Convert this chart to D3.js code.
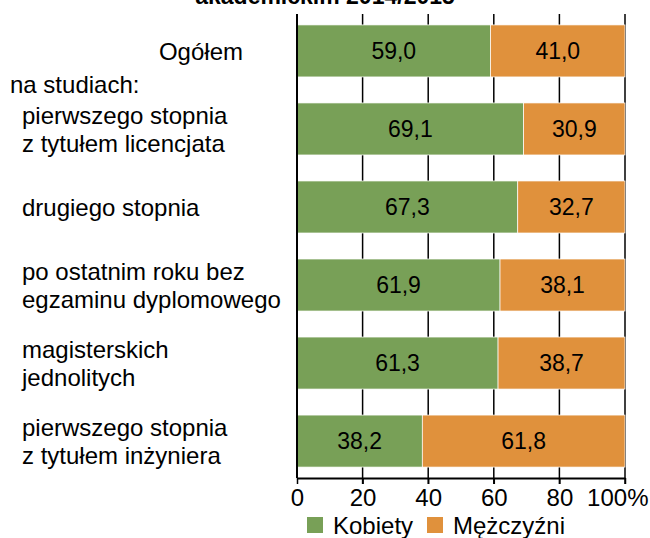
<!DOCTYPE html>
<html>
<head>
<meta charset="utf-8">
<script src="https://cdn.jsdelivr.net/npm/d3@7"></script>
<style>
  body { margin: 0; background: #fff; }
  text { font-family: "Liberation Sans", Arial, sans-serif; fill: #000; }
</style>
</head>
<body>
<script>
// data
const categories = [
  "Ogółem",
  "pierwszego stopnia\nz tytułem licencjata",
  "drugiego stopnia",
  "po ostatnim roku bez\negzaminu dyplomowego",
  "magisterskich\njednolitych",
  "pierwszego stopnia\nz tytułem inżyniera"
]
const kobiety = [59.0, 69.1, 67.3, 61.9, 61.3, 38.2]
const mezczyzni = [41.0, 30.9, 32.7, 38.1, 38.7, 61.8]
const seriesNames = ["Kobiety", "Mężczyźni"]
const colors = ["#78a057", "#e0913c"]
const xTicks = [0, 20, 40, 60, 80, 100]

const W = 650, H = 538
const fs = 23     // values, ticks, legend
const fsLab = 24  // category labels

const svg = d3.select("body").append("svg")
  .attr("width", W)
  .attr("height", H)

// title (cut off at top of the picture, as in the original)
svg.append("text")
  .attr("x", 325).attr("y", 4)
  .attr("text-anchor", "middle")
  .attr("font-weight", "bold")
  .attr("font-size", fs)
  .text("akademickim 2014/2015")

const x = d3.scaleLinear().domain([0, 100]).range([297, 625])
const y = d3.scaleBand().domain(categories).range([14, 478])
  .paddingInner(1 / 3).paddingOuter(0.14)

// gridlines (behind bars)
svg.append("g").selectAll("line")
  .data(xTicks.slice(1))
  .join("line")
  .attr("x1", d => x(d)).attr("x2", d => x(d))
  .attr("y1", 14).attr("y2", 484)
  .attr("stroke", "#000")
  .attr("stroke-width", 1.5)

const rows = categories.map((c, i) => ({ cat: c, k: kobiety[i], m: mezczyzni[i] }))
const fmt = v => d3.format(".1f")(v).replace(".", ",")

const g = svg.append("g").selectAll("g")
  .data(rows)
  .join("g")

g.append("rect")
  .attr("x", x(0))
  .attr("y", d => y(d.cat))
  .attr("width", d => x(d.k) - x(0))
  .attr("height", y.bandwidth())
  .attr("fill", colors[0])
  .attr("stroke", "#fff").attr("stroke-width", 0.7)

g.append("rect")
  .attr("x", d => x(d.k))
  .attr("y", d => y(d.cat))
  .attr("width", d => x(d.k + d.m) - x(d.k))
  .attr("height", y.bandwidth())
  .attr("fill", colors[1])
  .attr("stroke", "#fff").attr("stroke-width", 0.7)

g.append("text")
  .attr("x", d => (x(0) + x(d.k)) / 2)
  .attr("y", d => y(d.cat) + y.bandwidth() / 2 + fs * 0.36)
  .attr("text-anchor", "middle")
  .attr("font-size", fs)
  .text(d => fmt(d.k))

g.append("text")
  .attr("x", d => (x(d.k) + x(d.k + d.m)) / 2)
  .attr("y", d => y(d.cat) + y.bandwidth() / 2 + fs * 0.36)
  .attr("text-anchor", "middle")
  .attr("font-size", fs)
  .text(d => fmt(d.m))

// left axis line
svg.append("line")
  .attr("x1", x(0)).attr("x2", x(0))
  .attr("y1", 14).attr("y2", 478)
  .attr("stroke", "#000").attr("stroke-width", 2)

// category labels
const lineH = 28
categories.forEach((c, i) => {
  const lines = c.split("\n")
  const cy = y(c) + y.bandwidth() / 2
  const t = svg.append("text")
    .attr("font-size", fsLab)
    .attr("text-anchor", i === 0 ? "end" : "start")
  lines.forEach((ln, j) => {
    t.append("tspan")
      .attr("x", i === 0 ? 243 : 22)
      .attr("y", cy + (j - (lines.length - 1) / 2) * lineH + fsLab * 0.36)
      .text(ln)
  })
})

svg.append("text")
  .attr("x", 10).attr("y", 93)
  .attr("font-size", fsLab)
  .text("na studiach:")

// bottom axis
const axis = svg.append("g")
  .attr("transform", "translate(0,478)")
  .call(d3.axisBottom(x).tickValues(xTicks).tickSize(6).tickSizeOuter(0)
    .tickFormat(d => d === 100 ? "100%" : d))
axis.select(".domain").attr("stroke", "#000").attr("stroke-width", 2)
axis.selectAll(".tick line").attr("stroke", "#000").attr("stroke-width", 1.5)
axis.selectAll(".tick text")
  .attr("font-size", fsLab)
  .attr("font-family", "Liberation Sans, Arial, sans-serif")
  .attr("fill", "#000")
  .attr("y", 11)
  .attr("dy", "0.71em")
axis.selectAll(".tick").filter(d => d === 100).select("text")
  .attr("text-anchor", "end").attr("x", 648 - x(100))

// legend
const legX = [307, 427]
seriesNames.forEach((s, i) => {
  svg.append("rect")
    .attr("x", legX[i]).attr("y", 517)
    .attr("width", 16).attr("height", 16)
    .attr("fill", colors[i])
  svg.append("text")
    .attr("x", legX[i] + 26).attr("y", 534)
    .attr("font-size", fsLab)
    .text(s)
})
</script>
</body>
</html>
